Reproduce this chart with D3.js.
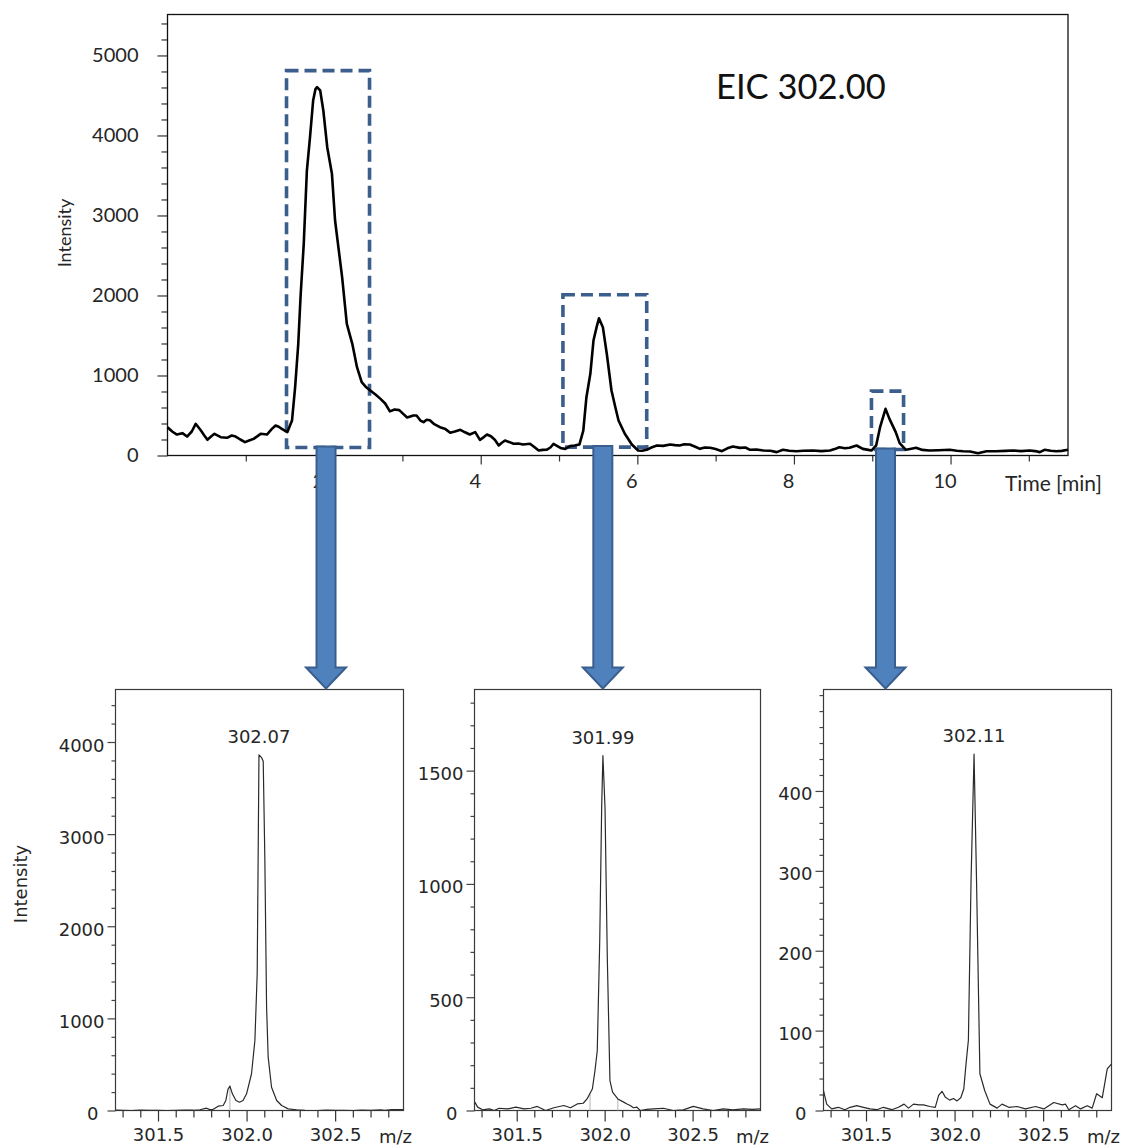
<!DOCTYPE html>
<html>
<head>
<meta charset="utf-8">
<script src="https://cdn.jsdelivr.net/npm/d3@7"></script>
<style>
  body { margin: 0; background: #fff; }
  svg { display: block; }
</style>
</head>
<body>
<svg id="chart" width="1125" height="1148"></svg>
<script>
// ---- Extracted ion chromatogram (EIC 302.00) ----
const eicTime = [
  0.00, 0.06, 0.12, 0.19, 0.25, 0.31, 0.36, 0.42, 0.47, 0.51, 0.56, 0.60, 0.68, 0.76, 0.82, 0.87,
  0.93, 0.99, 1.05, 1.10, 1.19, 1.27, 1.33, 1.38, 1.42, 1.46, 1.53, 1.59, 1.63, 1.67, 1.70, 1.74,
  1.78, 1.82, 1.86, 1.89, 1.91, 1.95, 1.99, 2.04, 2.10, 2.14, 2.23, 2.29, 2.36, 2.42, 2.48, 2.53,
  2.59, 2.66, 2.72, 2.78, 2.84, 2.90, 2.96, 3.01, 3.06, 3.14, 3.18, 3.23, 3.27, 3.31, 3.35, 3.40,
  3.48, 3.55, 3.61, 3.67, 3.74, 3.80, 3.86, 3.93, 3.99, 4.04, 4.08, 4.13, 4.18, 4.23, 4.27, 4.31,
  4.36, 4.42, 4.48, 4.54, 4.63, 4.68, 4.74, 4.79, 4.84, 4.89, 4.93, 4.99, 5.03, 5.08, 5.14, 5.20,
  5.26, 5.31, 5.35, 5.40, 5.44, 5.48, 5.51, 5.56, 5.61, 5.67, 5.72, 5.76, 5.84, 5.93, 6.01, 6.06,
  6.12, 6.18, 6.25, 6.33, 6.42, 6.48, 6.54, 6.60, 6.67, 6.74, 6.80, 6.86, 6.93, 7.00, 7.08, 7.15,
  7.22, 7.31, 7.38, 7.44, 7.52, 7.61, 7.70, 7.78, 7.86, 7.94, 8.03, 8.12, 8.24, 8.35, 8.46, 8.52,
  8.58, 8.65, 8.71, 8.80, 8.88, 8.95, 8.99, 9.05, 9.10, 9.17, 9.22, 9.30, 9.35, 9.43, 9.50, 9.56,
  9.64, 9.73, 9.85, 9.99, 10.08, 10.16, 10.25, 10.35, 10.46, 10.58, 10.70, 10.80, 10.90, 11.01,
  11.08, 11.14, 11.20, 11.28, 11.35, 11.42, 11.50
];
const eicIntensity = [
  354, 300, 262, 279, 237, 300, 396, 321, 250, 196, 240, 271, 229, 221, 250, 237,
  200, 167, 190, 208, 271, 262, 330, 375, 360, 333, 292, 437, 854, 1396, 2000, 2646,
  3562, 3979, 4437, 4580, 4604, 4562, 4312, 3854, 3521, 2937, 2229, 1646, 1396, 1104, 917, 860,
  812, 760, 708, 650, 552, 575, 567, 520, 475, 500, 500, 437, 417, 446, 440, 396,
  354, 330, 285, 300, 321, 290, 262, 292, 196, 230, 262, 240, 196, 125, 160, 187,
  170, 146, 150, 137, 146, 110, 62, 70, 71, 100, 146, 112, 90, 83, 117, 125,
  137, 312, 729, 1021, 1437, 1604, 1716, 1604, 1271, 812, 600, 437, 271, 137, 62, 60,
  71, 100, 125, 120, 137, 130, 125, 140, 137, 110, 83, 100, 96, 80, 54, 90,
  112, 95, 100, 71, 75, 62, 60, 42, 71, 60, 54, 60, 62, 55, 62, 80,
  104, 90, 96, 125, 83, 70, 62, 125, 354, 583, 458, 292, 154, 71, 85, 96,
  70, 62, 65, 71, 60, 54, 50, 29, 54, 54, 58, 62, 55, 62,
  55, 42, 71, 60, 54, 58, 71
];
const eicYTicks = [0, 1000, 2000, 3000, 4000, 5000];
const eicXTicks = [2, 4, 6, 8, 10];

// Retention windows that were averaged into the three mass spectra
const windowStart  = [1.52, 5.05, 8.99];
const windowEnd    = [2.58, 6.12, 9.40];
const windowTop    = [4810, 2010, 805];
const windowBottom = [100, 105, 75];

// ---- Mass spectra, one per retention window ----
const spec1Mz = [
  301.26, 301.30, 301.35, 301.40, 301.45, 301.50, 301.55, 301.60, 301.65, 301.70, 301.736, 301.774,
  301.79, 301.81, 301.84, 301.868, 301.883, 301.895, 301.906, 301.92, 301.94, 301.96, 301.98, 302.0,
  302.028, 302.047, 302.06, 302.07, 302.085, 302.094, 302.103, 302.113, 302.122, 302.141, 302.17,
  302.198, 302.235, 302.282, 302.33, 302.40, 302.45, 302.50, 302.55, 302.60, 302.65, 302.70, 302.757,
  302.78, 302.82, 302.885
];
const spec1Int = [
  5, 2, 0, 3, 1, 2, 0, 2, 4, 3, 8, 25,
  12, 10, 47, 54, 109, 230, 265, 181, 109, 90, 109, 181,
  399, 761, 1486, 3860, 3830, 3790, 2754, 1123, 580, 253, 109,
  54, 18, 8, 2, 0, 3, 1, 2, 0, 3, 2, 8,
  2, 10, 10
];
const spec1MarkMz = [301.906];
const spec1MarkInt = [265];
const spec1YTicks = [0, 1000, 2000, 3000, 4000];

const spec2Mz = [
  301.262, 301.278, 301.306, 301.344, 301.372, 301.40, 301.448, 301.495, 301.542, 301.58, 301.617,
  301.664, 301.711, 301.768, 301.806, 301.844, 301.878, 301.90, 301.917, 301.93, 301.945, 301.958,
  301.972, 301.983, 301.99, 302.002, 302.015, 302.03, 302.045, 302.075, 302.108, 302.127, 302.145,
  302.164, 302.183, 302.202, 302.24, 302.277, 302.334, 302.39, 302.447, 302.504, 302.56, 302.617,
  302.674, 302.73, 302.787, 302.84, 302.885
];
const spec2Int = [
  37, 15, 3, 7, 0, 10, 7, 15, 7, 10, 18,
  0, 12, 22, 12, 29, 32, 51, 76, 95, 176, 265,
  750, 1338, 1566, 1338, 676, 132, 81, 51, 37, 29, 22,
  12, 15, 0, 5, 7, 10, 0, 3, 18, 7, 0,
  7, 3, 7, 5, 7
];
const spec2MarkMz = [301.917, 302.075];
const spec2MarkInt = [76, 51];
const spec2YTicks = [0, 500, 1000, 1500];

const spec3Mz = [
  301.26, 301.278, 301.306, 301.344, 301.381, 301.41, 301.448, 301.485, 301.523, 301.561, 301.598,
  301.646, 301.683, 301.715, 301.74, 301.768, 301.80, 301.825, 301.86, 301.891, 301.91, 301.929,
  301.947, 301.972, 301.994, 302.014, 302.035, 302.052, 302.065, 302.078, 302.093, 302.11, 302.124,
  302.143, 302.17, 302.20, 302.24, 302.268, 302.306, 302.353, 302.40, 302.457, 302.504, 302.56,
  302.608, 302.626, 302.645, 302.683, 302.711, 302.749, 302.777, 302.802, 302.834, 302.862, 302.885
];
const spec3Int = [
  25, 8, 2, 4, 1, 4, 6, 4, 2, 1, 4,
  1, 4, 8, 3, 8, 7, 7, 5, 4, 19, 24,
  17, 13, 15, 12, 16, 27, 59, 88, 288, 446, 288,
  46, 25, 8, 3, 8, 4, 5, 2, 5, 2, 10,
  7, 8, 1, 6, 2, 6, 3, 21, 16, 52, 58
];
const spec3MarkMz = [];
const spec3MarkInt = [];
const spec3YTicks = [0, 100, 200, 300, 400];

const mzTicks = [301.5, 302.0, 302.5];

// ---------------------------------------------------------------
const svg = d3.select("#chart");
const ink = "#262626";
const topFont = "Lato, 'Open Sans', sans-serif";
const lowFont = "'DejaVu Sans', sans-serif";
const lowSize = 18;

function styleAxis(g, font, size, color) {
  g.select(".domain").remove();
  g.selectAll(".tick line").attr("stroke", color).attr("stroke-width", 1.2);
  g.selectAll(".tick text").attr("font-family", font).attr("font-size", size).attr("fill", color);
}

// ---- Chromatogram panel ----
const xT = d3.scaleLinear().domain([0, 11.5]).range([167.5, 1068]);
const yT = d3.scaleLinear().domain([0, 5512]).range([455.5, 14.5]);

const eicMinorY = d3.range(200, 5401, 200).filter(v => v % 1000 !== 0);
const eicMinorX = [1, 3, 5, 7, 9, 11];

svg.append("g").attr("transform", `translate(${xT(0)},0)`)
  .call(d3.axisLeft(yT).tickValues(eicMinorY).tickSize(6).tickFormat(""))
  .call(g => styleAxis(g, topFont, 20, "#333"));
svg.append("g").attr("transform", `translate(${xT(0)},0)`)
  .call(d3.axisLeft(yT).tickValues(eicYTicks).tickSize(10).tickPadding(19).tickFormat(d3.format("d")))
  .call(g => styleAxis(g, topFont, 20, "#333"))
  .call(g => g.selectAll(".tick text").attr("fill", ink));

svg.append("g").attr("transform", `translate(0,${yT(0)})`)
  .call(d3.axisBottom(xT).tickValues(eicMinorX).tickSize(6).tickFormat(""))
  .call(g => styleAxis(g, topFont, 20, "#333"));
svg.append("g").attr("transform", `translate(0,${yT(0)})`)
  .call(d3.axisBottom(xT).tickValues(eicXTicks).tickSize(9).tickPadding(9).tickFormat(d3.format("d")))
  .call(g => styleAxis(g, topFont, 20, "#333"))
  .call(g => g.selectAll(".tick text").attr("fill", ink).attr("dx", -6));

svg.append("rect")
  .attr("x", xT(0)).attr("y", yT(5512))
  .attr("width", xT(11.5) - xT(0)).attr("height", yT(0) - yT(5512))
  .attr("fill", "none").attr("stroke", "#111").attr("stroke-width", 1.3);

// retention windows (dashed)
svg.append("g").selectAll("rect").data(windowStart).join("rect")
  .attr("x", (d, i) => xT(d))
  .attr("y", (d, i) => yT(windowTop[i]))
  .attr("width", (d, i) => xT(windowEnd[i]) - xT(d))
  .attr("height", (d, i) => yT(windowBottom[i]) - yT(windowTop[i]))
  .attr("fill", "none")
  .attr("stroke", "#3B5E8C")
  .attr("stroke-width", 3.6)
  .attr("stroke-dasharray", "12,6");

// EIC trace
const eicLine = d3.line().curve(d3.curveLinear);
svg.append("path")
  .attr("d", eicLine(eicTime.map((t, i) => [xT(t), yT(eicIntensity[i])])))
  .attr("fill", "none")
  .attr("stroke", "#000")
  .attr("stroke-width", 2.6)
  .attr("stroke-linejoin", "round");

svg.append("text")
  .attr("transform", "translate(71,233) rotate(-90)")
  .attr("text-anchor", "middle")
  .attr("font-family", topFont).attr("font-size", 18).attr("fill", ink)
  .text("Intensity");

svg.append("text")
  .attr("x", 1005).attr("y", 491)
  .attr("font-family", topFont).attr("font-size", 21).attr("fill", ink)
  .text("Time [min]");

svg.append("text")
  .attr("x", 716).attr("y", 99)
  .attr("font-family", topFont).attr("font-size", 34.5).attr("fill", "#111")
  .text("EIC 302.00");

// ---- Mass spectrum panels ----
const mzDomain = [301.26, 302.886];
const panelTop = 689.5, panelBottom = 1110.5;
const panels = [
  { mz: spec1Mz, inten: spec1Int, yMax: 4570, yTicks: spec1YTicks, minorStep: 200, markMz: spec1MarkMz, markInt: spec1MarkInt, left: 115.5, right: 403.5 },
  { mz: spec2Mz, inten: spec2Int, yMax: 1858, yTicks: spec2YTicks, minorStep: 100, markMz: spec2MarkMz, markInt: spec2MarkInt, left: 474.5, right: 760.5 },
  { mz: spec3Mz, inten: spec3Int, yMax: 527, yTicks: spec3YTicks, minorStep: 20, markMz: spec3MarkMz, markInt: spec3MarkInt, left: 823.5, right: 1111.5 }
];
const mzMinor = d3.range(3013, 3029).filter(v => v % 5 !== 0).map(v => v / 10);

panels.forEach((p, k) => {
  const xS = d3.scaleLinear().domain(mzDomain).range([p.left, p.right]);
  const yS = d3.scaleLinear().domain([0, p.yMax]).range([panelBottom, panelTop]);
  const g = svg.append("g");

  const clipId = "clip" + k;
  g.append("clipPath").attr("id", clipId).append("rect")
    .attr("x", p.left).attr("y", panelTop).attr("width", p.right - p.left).attr("height", panelBottom - panelTop);

  const minorY = d3.range(p.minorStep, p.yMax, p.minorStep).filter(v => !p.yTicks.includes(v));
  g.append("g").attr("transform", `translate(${p.left},0)`)
    .call(d3.axisLeft(yS).tickValues(minorY).tickSize(4).tickFormat(""))
    .call(a => styleAxis(a, lowFont, lowSize, "#444"));
  g.append("g").attr("transform", `translate(${p.left},0)`)
    .call(d3.axisLeft(yS).tickValues(p.yTicks).tickSize(8).tickPadding(3).tickFormat(d3.format("d")))
    .call(a => styleAxis(a, lowFont, lowSize, "#444"))
    .call(a => a.selectAll(".tick text").attr("fill", ink).attr("dy", "0.5em")
      .attr("dx", d => d === 0 ? -6 : 0));

  g.append("g").attr("transform", `translate(0,${panelBottom})`)
    .call(d3.axisBottom(xS).tickValues(mzMinor).tickSize(7).tickFormat(""))
    .call(a => styleAxis(a, lowFont, lowSize, "#333"));
  g.append("g").attr("transform", `translate(0,${panelBottom})`)
    .call(d3.axisBottom(xS).tickValues(mzTicks).tickSize(11).tickPadding(7).tickFormat(d3.format(".1f")))
    .call(a => styleAxis(a, lowFont, lowSize, "#333"))
    .call(a => a.selectAll(".tick text").attr("fill", ink));

  g.append("rect")
    .attr("x", p.left).attr("y", panelTop)
    .attr("width", p.right - p.left).attr("height", panelBottom - panelTop)
    .attr("fill", "none").attr("stroke", "#3a3a3a").attr("stroke-width", 1.2);

  // centroid marker lines
  g.append("g").selectAll("line").data(p.markMz).join("line")
    .attr("x1", d => xS(d)).attr("x2", d => xS(d))
    .attr("y1", yS(0)).attr("y2", (d, i) => yS(p.markInt[i]))
    .attr("stroke", "#b4b4b4").attr("stroke-width", 1);

  g.append("path")
    .attr("clip-path", `url(#${clipId})`)
    .attr("d", d3.line()(p.mz.map((m, i) => [xS(m), yS(p.inten[i])])))
    .attr("fill", "none")
    .attr("stroke", "#2a2a2a")
    .attr("stroke-width", 1.2)
    .attr("stroke-linejoin", "round");

  // apex label
  const apex = d3.maxIndex(p.inten);
  g.append("text")
    .attr("x", xS(p.mz[apex])).attr("y", yS(p.inten[apex]) - 12)
    .attr("text-anchor", "middle")
    .attr("font-family", lowFont).attr("font-size", lowSize).attr("fill", ink)
    .text(p.mz[apex].toFixed(2));

  g.append("text")
    .attr("x", p.right - 8).attr("y", 1143)
    .attr("text-anchor", "middle")
    .attr("font-family", lowFont).attr("font-size", lowSize).attr("fill", ink)
    .text("m/z");
});

svg.append("text")
  .attr("transform", "translate(27,884) rotate(-90)")
  .attr("text-anchor", "middle")
  .attr("font-family", lowFont).attr("font-size", lowSize).attr("fill", ink)
  .text("Intensity");

// ---- Arrows from each retention window down to its spectrum ----
function arrowPath(cx, y0, y1) {
  const sw = 9.5, hw = 20, hh = 21;
  return `M${cx - sw},${y0}V${y1 - hh}H${cx - hw}L${cx},${y1}L${cx + hw},${y1 - hh}H${cx + sw}V${y0}Z`;
}
svg.append("g").selectAll("path").data(windowStart).join("path")
  .attr("d", (d, i) => arrowPath((xT(d) + xT(windowEnd[i])) / 2 - 2, yT(windowBottom[i]) - 1, panelTop - 1))
  .attr("fill", "#4F81BD")
  .attr("stroke", "#3A5F8E")
  .attr("stroke-width", 2)
  .attr("stroke-linejoin", "miter");
</script>
</body>
</html>
